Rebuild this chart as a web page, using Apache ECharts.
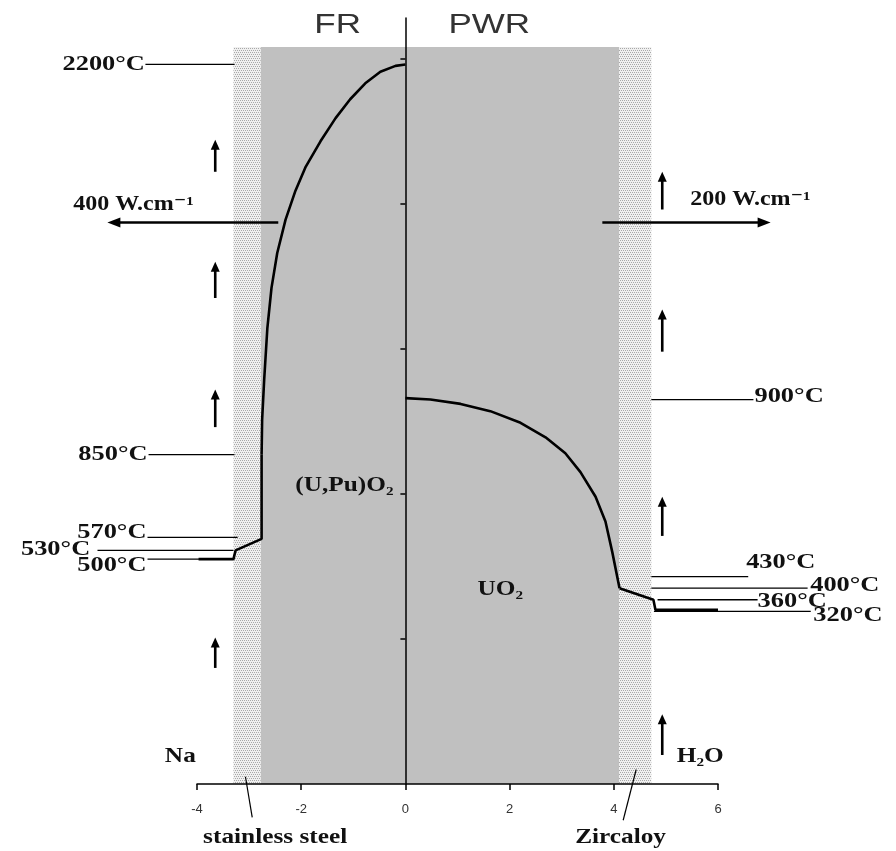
<!DOCTYPE html>
<html><head><meta charset="utf-8">
<script src="https://cdn.jsdelivr.net/npm/echarts@6/dist/echarts.min.js"></script>
<style>html,body{margin:0;padding:0;background:#fff}#c{width:896px;height:851px}</style>
</head><body><div id="c"></div>
<script>
// ================= DATA =================
const xTickValues = [-4, -2, 0, 2, 4, 6];
const yTickValues = [1, 2, 3, 4, 5];
// radial zones (schematic units)
const steelClad   = [-3.30, -2.78];
const fuelPellets = [-2.78, 4.10];
const zircClad    = [4.10, 4.72];
const bandTop     = 5.08;

// FR temperature profile (schematic axis units)
const frFuelX  = [0, -0.19, -0.48, -0.77, -1.06, -1.34, -1.63, -1.92, -2.11, -2.30, -2.46, -2.57, -2.65, -2.71, -2.75, -2.76];
const frFuelY  = [4.96, 4.95, 4.91, 4.83, 4.72, 4.59, 4.43, 4.25, 4.09, 3.89, 3.66, 3.42, 3.14, 2.79, 2.51, 2.27];
const frOuterX = [-2.76, -2.76, -3.26, -3.30, -3.97];
const frOuterY = [2.27, 1.69, 1.61, 1.55, 1.55];
// PWR temperature profile
const pwrFuelX  = [0, 0.48, 1.06, 1.63, 2.21, 2.69, 3.07, 3.36, 3.65, 3.84, 3.97, 4.11];
const pwrFuelY  = [2.66, 2.65, 2.62, 2.57, 2.49, 2.39, 2.28, 2.15, 1.98, 1.81, 1.60, 1.35];
const pwrOuterX = [4.11, 4.76, 4.80, 6.0];
const pwrOuterY = [1.35, 1.27, 1.20, 1.20];

const frTempText   = ['2200°C', '850°C', '570°C', '530°C', '500°C'];
const frTempLevel  = [4.96, 2.27, 1.70, 1.61, 1.55];
const pwrTempText  = ['900°C', '430°C', '400°C', '360°C', '320°C'];
const pwrTempLevel = [2.65, 1.43, 1.35, 1.27, 1.19];

const linearPower = ['400 W.cm⁻¹', '200 W.cm⁻¹'];
const zoneNames = ['FR', 'PWR', '(U,Pu)O₂', 'UO₂', 'Na', 'H₂O', 'stainless steel', 'Zircaloy'];

// ================= LAYOUT (annotation placement) =================
const frLineX  = [[-4.99, -3.28], [-4.93, -3.28], [-4.95, -3.22], [-5.91, -3.30], [-4.95, -3.30]];
const frLabelX = [-5.00, -4.95, -4.97, -6.05, -4.97];
const frLabelDy = [0, 0, -5, -1, 6];
const pwrLineX  = [[4.72, 6.68], [4.72, 6.58], [4.72, 7.72], [4.84, 6.76], [4.77, 7.78]];
const pwrLabelX = [6.70, 6.54, 7.77, 6.76, 7.83];
const pwrLabelDy = [-3, -14, -3, 2, 4];

const flowLeftX = -3.65, flowRightX = 4.93;
const flowLeftY  = [[4.22, 4.44], [3.35, 3.60], [2.46, 2.72], [0.80, 1.01]];
const flowRightY = [[3.96, 4.22], [2.98, 3.27], [1.71, 1.98], [0.20, 0.48]];
const powerArrows = [[-2.44, -5.72, 3.87], [3.78, 7.01, 3.87]];
const powerLabelPos = [[-5.22, 3.99], [6.62, 4.03]];
const zoneNamePos = [[-1.30, 5.23], [1.61, 5.23], [-1.17, 2.06], [1.82, 1.34], [-4.32, 0.19], [5.66, 0.19], [-2.50, -0.37], [4.13, -0.37]];
const leaders = [[-3.07, 0.05, -2.94, -0.23], [4.43, 0.10, 4.18, -0.25]];

// ================= BUILD =================
const SERIF = '"Liberation Serif", "DejaVu Serif", serif';
const SANS = '"Liberation Sans", Arial, sans-serif';
const pat = document.createElement('canvas');
pat.width = 4; pat.height = 4;
const pg = pat.getContext('2d');
pg.fillStyle = '#f0f0f0'; pg.fillRect(0, 0, 4, 4);
pg.fillStyle = '#a8a8a8';
[[0,0],[2,0],[1,2],[3,2]].forEach(p => pg.fillRect(p[0], p[1], 1, 1));

const zip = (xs, ys) => xs.map((x, i) => [x, ys[i]]);

const bands = [
  { span: fuelPellets, fill: '#c0c0c0' },
  { span: steelClad, fill: { image: pat, repeat: 'repeat' } },
  { span: zircClad, fill: { image: pat, repeat: 'repeat' } }
];

const refLines = [];
frTempLevel.forEach((lv, i) => refLines.push({ x1: frLineX[i][0], x2: frLineX[i][1], y: lv }));
pwrTempLevel.forEach((lv, i) => refLines.push({ x1: pwrLineX[i][0], x2: pwrLineX[i][1], y: lv }));

const texts = [];
const tempFont = 'bold 22px ' + SERIF;
frTempText.forEach((t, i) => texts.push({ x: frLabelX[i], y: frTempLevel[i], t, align: 'right', dy: frLabelDy[i], font: tempFont, sx: 1.2, fill: '#111' }));
pwrTempText.forEach((t, i) => texts.push({ x: pwrLabelX[i], y: pwrTempLevel[i], t, align: 'left', dy: pwrLabelDy[i], font: tempFont, sx: 1.2, fill: '#111' }));
linearPower.forEach((t, i) => texts.push({ x: powerLabelPos[i][0], y: powerLabelPos[i][1], t, align: 'center', dy: 0, font: 'bold 20px ' + SERIF, sx: 1.2, fill: '#111' }));
zoneNames.forEach((t, i) => {
  const sans = i < 2;
  texts.push({ x: zoneNamePos[i][0], y: zoneNamePos[i][1], t, align: 'center', dy: 0,
    font: sans ? '28px ' + SANS : 'bold 22px ' + SERIF, sx: sans ? 1.25 : 1.15, fill: sans ? '#333' : '#111' });
});

const arrowsV = [];
flowLeftY.forEach(r => arrowsV.push([flowLeftX, r[0], r[1]]));
flowRightY.forEach(r => arrowsV.push([flowRightX, r[0], r[1]]));

const chart = echarts.init(document.getElementById('c'), null, { renderer: 'canvas' });
chart.setOption({
  animation: false,
  backgroundColor: '#fff',
  grid: { left: 197, right: 178, top: 18, bottom: 67 },
  xAxis: {
    type: 'value', min: -4, max: 6, interval: 2, z: 10,
    axisLine: { onZero: true, lineStyle: { color: '#000', width: 1.5 } },
    axisTick: { show: true, length: 6, lineStyle: { color: '#000', width: 1.5 } },
    axisLabel: { margin: 19, color: '#333', fontFamily: SANS, fontSize: 13,
      customValues: xTickValues },
    splitLine: { show: false }
  },
  yAxis: {
    type: 'value', min: 0, max: 5.28, z: 10,
    axisLine: { show: true, onZero: true, lineStyle: { color: '#000', width: 1.5 } },
    axisTick: { show: true, length: 5, customValues: yTickValues, lineStyle: { color: '#000', width: 1.5 } },
    axisLabel: { show: false },
    splitLine: { show: false }
  },
  series: [
    {
      type: 'custom', name: 'zones', z: 1, silent: true,
      data: bands.map(b => [b.span[0], b.span[1]]),
      renderItem: (params, api) => {
        const b = bands[params.dataIndex];
        const p1 = api.coord([b.span[0], bandTop]);
        const p2 = api.coord([b.span[1], 0]);
        return { type: 'rect', shape: { x: p1[0], y: p1[1], width: p2[0] - p1[0], height: p2[1] - p1[1] }, style: { fill: b.fill } };
      }
    },
    {
      type: 'custom', name: 'refLines', z: 3, silent: true, clip: false,
      data: refLines.map(r => [r.x1, r.y]),
      renderItem: (params, api) => {
        const r = refLines[params.dataIndex];
        const a = api.coord([r.x1, r.y]), b = api.coord([r.x2, r.y]);
        return { type: 'line', shape: { x1: a[0], y1: a[1], x2: b[0], y2: b[1] }, style: { stroke: '#000', lineWidth: 1.3 } };
      }
    },
    {
      type: 'custom', name: 'leaders', z: 3, silent: true, clip: false,
      data: leaders.map(l => [l[0], l[1]]),
      renderItem: (params, api) => {
        const l = leaders[params.dataIndex];
        const a = api.coord([l[0], l[1]]), b = api.coord([l[2], l[3]]);
        return { type: 'line', shape: { x1: a[0], y1: a[1], x2: b[0], y2: b[1] }, style: { stroke: '#000', lineWidth: 1.2 } };
      }
    },
    { type: 'line', name: 'FR fuel', data: zip(frFuelX, frFuelY), smooth: false, showSymbol: false, z: 5, lineStyle: { color: '#000', width: 2.6, join: 'round' } },
    { type: 'line', name: 'FR outer', data: zip(frOuterX, frOuterY), showSymbol: false, z: 5, lineStyle: { color: '#000', width: 2.6 } },
    { type: 'line', name: 'PWR fuel', data: zip(pwrFuelX, pwrFuelY), smooth: false, showSymbol: false, z: 5, lineStyle: { color: '#000', width: 2.6, join: 'round' } },
    { type: 'line', name: 'PWR outer', data: zip(pwrOuterX, pwrOuterY), showSymbol: false, z: 5, lineStyle: { color: '#000', width: 2.6 } },
    {
      type: 'custom', name: 'flow', z: 6, silent: true, clip: false,
      data: arrowsV,
      renderItem: (params, api) => {
        const d = arrowsV[params.dataIndex];
        const a = api.coord([d[0], d[1]]), b = api.coord([d[0], d[2]]);
        const x = a[0], hl = 10, hw = 4.5;
        return { type: 'group', children: [
          { type: 'line', shape: { x1: x, y1: a[1], x2: x, y2: b[1] + hl - 1 }, style: { stroke: '#000', lineWidth: 2.6 } },
          { type: 'polygon', shape: { points: [[x, b[1]], [x - hw, b[1] + hl], [x + hw, b[1] + hl]] }, style: { fill: '#000' } }
        ] };
      }
    },
    {
      type: 'custom', name: 'power', z: 6, silent: true, clip: false,
      data: powerArrows.map(p => [p[0], p[2]]),
      renderItem: (params, api) => {
        const d = powerArrows[params.dataIndex];
        const a = api.coord([d[0], d[2]]), b = api.coord([d[1], d[2]]);
        const dir = b[0] > a[0] ? 1 : -1, hl = 13, hw = 5;
        return { type: 'group', children: [
          { type: 'line', shape: { x1: a[0], y1: a[1], x2: b[0] - dir * (hl - 1), y2: b[1] }, style: { stroke: '#000', lineWidth: 2.6 } },
          { type: 'polygon', shape: { points: [[b[0], b[1]], [b[0] - dir * hl, b[1] - hw], [b[0] - dir * hl, b[1] + hw]] }, style: { fill: '#000' } }
        ] };
      }
    },
    {
      type: 'custom', name: 'labels', z: 8, silent: true, clip: false,
      data: texts.map(t => [t.x, t.y]),
      renderItem: (params, api) => {
        const t = texts[params.dataIndex];
        const p = api.coord([t.x, t.y]);
        return { type: 'text', x: p[0], y: p[1] + t.dy, scaleX: t.sx,
          style: { text: t.t, x: 0, y: 0, align: t.align, verticalAlign: 'middle', font: t.font, fill: t.fill } };
      }
    }
  ]
});
</script></body></html>
